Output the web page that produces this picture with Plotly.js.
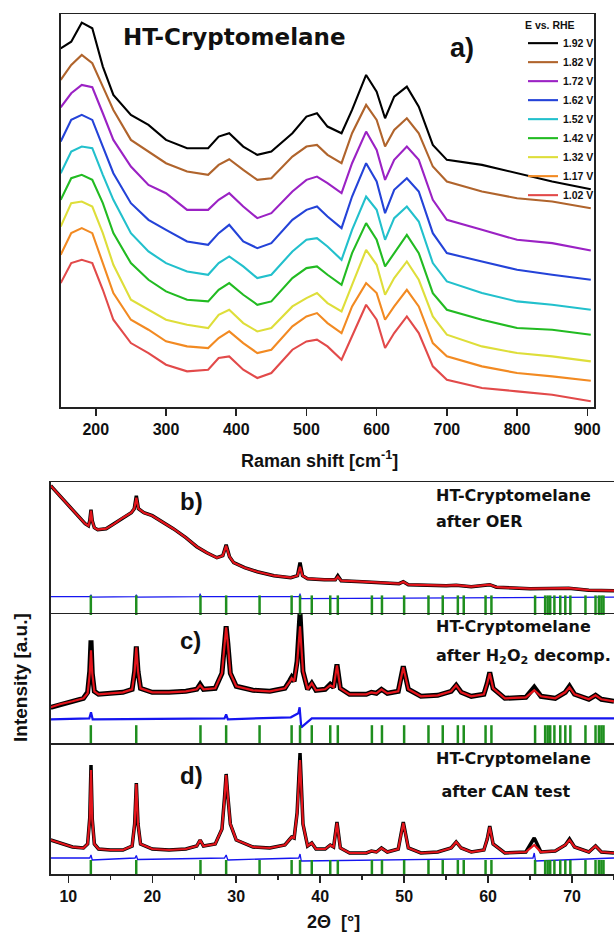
<!DOCTYPE html>
<html><head><meta charset="utf-8">
<script src="https://cdn.plot.ly/plotly-3.0.1.min.js"></script>
<style>html,body{margin:0;padding:0;background:#fff}#chart{width:614px;height:934px}</style>
</head><body><div id="chart"></div>
<script>
// ---------- Raman (panel a) ----------
const ramanX = [150,165,180,195,210,225,250,275,300,330,360,375,390,410,430,450,480,500,515,530,550,565,585,600,612,625,643,660,680,700,750,800,850,905];
const potentials = ['1.92 V','1.82 V','1.72 V','1.62 V','1.52 V','1.42 V','1.32 V','1.17 V','1.02 V'];
const v192 = [107.7,109.7,115.4,113.7,102.2,93.7,87.7,84.7,80.2,77.7,77.7,81.2,82.2,78.2,75.7,76.7,82.2,87.2,88.2,84.2,82.2,89.2,99.7,94.7,86.7,93.2,96.2,90.2,78.7,74.2,72.7,70.2,67.7,65.4];
const v182 = [98.2,102.7,105.7,103.2,96.2,89.2,80.2,76.7,73.2,70.7,69.7,72.7,74.4,71.2,68.2,68.7,75.2,78.2,78.7,75.7,73.2,82.2,90.7,86.2,78.2,83.2,86.7,82.2,72.2,67.7,64.7,62.7,61.7,59.7];
const v172 = [90,94.2,96.7,96,88.2,80.2,72.2,66.7,64.2,59.2,59.2,62.2,64.2,60.2,56.7,58.2,64.7,68.2,69.2,67.2,64.2,73.2,82.7,77.2,68.2,74.2,78.2,74.2,62.2,56.2,53.2,50.2,49.2,47];
const v162 = [79.7,86.2,87.7,86.2,78.2,70.2,61.2,56.2,53.2,49.7,48.7,52.2,54.7,49.7,47.7,49.2,56.2,59.2,60.2,57.2,53.7,63.2,73.2,67.7,58.2,65.2,68.7,64.7,52.2,46.2,43.7,41.2,39.7,38.2];
const v152 = [70.2,76.7,78.2,77.7,69.7,62.2,52.2,46.7,43.2,40.7,39.7,43.2,45.2,42.2,38.7,39.7,46.7,50.2,50.7,48.2,44.2,53.2,63.2,59.2,50.2,56.7,60.2,55.7,43.2,37.7,34.2,31.7,30.7,29.2];
const v142 = [62.2,68.7,69.7,68.2,61.2,52.2,43.2,38.2,34.7,32.2,31.7,35.2,37.2,33.7,30.7,31.7,38.7,41.7,42.2,39.7,36.7,46.2,55.2,50.2,42.2,46.2,51.7,46.2,34.2,29.2,26.2,23.7,23.2,21.7];
const v132 = [54.2,61.2,61.7,60.2,52.2,42.7,32.2,29.2,26.2,24.7,23.7,27.7,29.2,25.2,22.7,23.7,30.2,32.7,34.2,31.2,28.7,36.7,47.2,42.7,33.7,38.7,43.7,38.2,27.2,21.7,18.2,16.2,15.2,13.7];
const v117 = [45.7,52.2,53.7,52.2,43.2,34.2,26.2,23.2,19.7,18.2,17.7,20.7,22.7,19.2,16.2,17.2,24.2,27.2,28.2,25.2,22.2,30.2,37.2,34.2,26.2,30.2,35.2,30.2,19.2,15.2,12.2,10.2,9.2,7.9];
const v102 = [37.2,43.2,44.2,43.2,35.2,26.2,19.2,16.2,12.7,10.7,11.2,14.7,15.2,11.2,8.7,10.2,17.2,19.7,20.2,18.2,14.2,21.2,30.7,26.2,17.7,22.2,27.2,22.2,12.2,8.2,5.7,4.7,3.7,1.7];
const ramanSeries = [v192,v182,v172,v162,v152,v142,v132,v117,v102];
const ramanColors = ['#000000','#b0642c','#9b22c4','#2443d8','#22c0cc','#22bb22','#dede3a','#f28a22','#e24a4a'];

// ---------- XRD panel b (after OER) ----------
const xB = [7.9,9,10,11,12,12.4,12.55,12.7,12.85,13.1,13.5,14.5,15.5,16.5,17.5,17.85,18.1,18.35,19,20,21,22.5,24,25.3,26.5,27.7,28.4,28.8,29.2,29.7,31,32.5,34.5,36.5,37.3,37.6,37.9,38.5,40.5,41.8,42.1,42.5,45,49.4,49.9,50.5,55,56.2,58,60.2,61,65,69.6,72,75];
const calcB = [127,117,108,98,89,87,92,102,92,85,83,84,89,95,100,104,115,104,100,97,92,84,75,66,60,55,57,67,56,50,45,41,37,35,37,46,37,34,33,33,36,32,31,29,31,28,27,27.5,26,28,25.5,24,24.5,22.5,22];
const obsB  = [127,117,108,98,89,87,92,103,92,85,83,84,89,95,100,104,117,104,100,97,92,84,75,66,60,55,57,68,56,50,45,41,37,35,37,50,37,34,33,33,37,32,31,29,31,28,27,27.5,26,28,25.5,24,24.5,22.5,22];
const diffBx = [7.9,12.6,12.7,12.8,18.0,18.1,18.2,25.6,25.7,25.8,37.5,37.6,37.7,75];
const diffBy = [16,16,18,15.5,16,18,15.5,16,19,16,16,19,14,15.5];

// ---------- XRD panels c and d share the same angle grid ----------
const xCD = [7.9,9,10.5,11.8,12.3,12.55,12.7,12.85,13.1,13.6,15,16.5,17.6,17.9,18.1,18.3,18.6,20,22,24,25.3,25.7,26.1,27.5,28.3,28.6,28.8,29.0,29.3,30,32,34,35.8,36.4,36.6,36.9,37.25,37.6,37.95,38.5,39.0,39.5,40.6,41.2,41.6,42.0,42.4,43.5,45.5,46.1,46.7,47.3,48,49.3,49.9,50.5,52,54,55.6,56.2,56.8,58,59.5,59.9,60.2,60.6,62,64.5,65.5,66.3,68,69.2,69.7,70.3,72,72.8,73.5,75];
const calcC = [36,39,42,45,50,70,93,70,52,49,50,51,54,72,96,72,55,51,51,52,54,58,54,55,70,100,116,100,70,57,53,52,55,62,65,62,80,117,72,54,60,53,54,58,56,78,55,49,49,51,50,54,50,52,76,54,47,48,52,58,51,47,49,60,70,55,45,46,53,47,45,51,56,49,44,48,44,42];
const obsC  = [36,39,42,45,51,72,103,70,52,49,50,51,54,72,97,72,55,51,51,52,54,59,54,55,70,100,117,100,70,57,53,52,55,63,66,62,82,130,72,54,60,53,54,59,56,79,55,49,49,51,50,54,50,52,77,54,47,48,52,58,51,47,49,60,71,55,45,46,56,47,45,51,57,49,44,48,44,42];
const diffCx = [7.9,12.5,12.7,12.9,28.6,28.8,29.0,36.5,37.4,37.55,37.75,38.3,39,75];
const diffCy = [24,25,31,24,25,29,24,26,30,36,16,20,25,25];

const calcD = [34,31,27,26,30,55,104,55,30,25,24,24,28,50,90,50,30,25,24,25,28,34,28,30,45,75,99,78,50,34,27,26,29,35,37,36,60,114,50,28,31,25,25,29,27,51,26,21,21,23,22,26,22,25,51,26,21,22,26,32,26,22,24,35,47,30,21,22,29,22,23,29,34,27,22,28,22,21];
const obsD  = [34,31,27,26,30,56,109,55,30,25,24,24,28,50,91,50,30,25,24,25,28,34,28,30,45,76,100,78,50,34,27,26,29,35,37,36,61,121,50,28,31,25,25,29,27,52,26,21,21,23,22,26,22,25,52,26,21,22,26,32,26,22,24,35,48,30,21,22,36,22,23,29,35,27,22,28,22,21];
const diffDx = [7.9,12.55,12.7,12.85,17.95,18.1,18.25,28.6,28.8,29.0,37.45,37.6,37.75,65.35,65.5,65.65,75];
const diffDy = [16,16,19,14,16,18.5,14.5,16,19,14,16,20,13,16,21,13,16];

// Bragg reflection positions (2theta, deg)
const reflections = [12.68,18.09,25.74,28.8,32.78,36.6,37.6,39.0,41.2,42.1,46.16,47.36,50.0,52.9,54.6,56.4,57.1,59.7,60.4,65.6,66.8,67.1,67.4,67.9,68.6,69.2,69.8,71.6,72.8,73.2,73.5,73.75];

const panelTexts = [['HT-Cryptomelane','after OER'],['HT-Cryptomelane','after H<sub>2</sub>O<sub>2</sub> decomp.'],['HT-Cryptomelane',' after CAN test']];

// ---------- helpers / styles ----------
const W = 614, H = 934;
const px = v => v / W, py = v => 1 - v / H;
const AR = 'Liberation Sans, Arial, sans-serif';
const DV = 'DejaVu Sans, sans-serif';
const FRAME = '#222';

const traces = [];
ramanSeries.forEach((ys, i) => {
  traces.push({x: ramanX, y: ys, type: 'scatter', mode: 'lines', name: potentials[i],
    line: {color: ramanColors[i], width: 2.1}, xaxis: 'x', yaxis: 'y'});
});

function xrdPanel(xa, ya, x, obs, calc, dx, dy, obsW, diffW, tickLevel, tickSize) {
  traces.push({x: x, y: obs, type: 'scatter', mode: 'lines', showlegend: false,
    line: {color: '#000', width: obsW}, xaxis: xa, yaxis: ya});
  traces.push({x: x, y: calc, type: 'scatter', mode: 'lines', showlegend: false,
    line: {color: '#e3141b', width: 2.2}, xaxis: xa, yaxis: ya});
  traces.push({x: dx, y: dy, type: 'scatter', mode: 'lines', showlegend: false,
    line: {color: '#1515f0', width: diffW}, xaxis: xa, yaxis: ya});
  traces.push({x: reflections, y: reflections.map(() => tickLevel), type: 'scatter', mode: 'markers',
    showlegend: false, cliponaxis: false,
    marker: {symbol: 'line-ns', size: tickSize, line: {color: '#1f8f1f', width: 2.5}}, xaxis: xa, yaxis: ya});
}
xrdPanel('x4', 'y2', xB, obsB, calcB, diffBx, diffBy, 3.5, 1.2, 7.5, 14);
xrdPanel('x3', 'y3', xCD, obsC, calcC, diffCx, diffCy, 5, 2.2, 8.3, 14);
xrdPanel('x2', 'y4', xCD, obsD, calcD, diffDx, diffDy, 3.5, 1.3, 6.3, 11);

const tickFont = {family: AR, size: 16, color: '#111', weight: 'bold'};
const boxY = (dom, anchor, range) => ({domain: dom, anchor: anchor, range: range, showticklabels: false, ticks: '',
  showline: true, mirror: true, linecolor: FRAME, linewidth: 1.5, showgrid: false, zeroline: false});
const boxX = (dom, anchor, mirror) => ({domain: dom, anchor: anchor, range: [7.9, 75], showticklabels: false, ticks: '',
  showline: true, mirror: mirror, linecolor: FRAME, linewidth: 1.5, showgrid: false, zeroline: false});

const ann = (text, x, y, size, fam, opts) => Object.assign({text: text, x: px(x), y: py(y), xref: 'paper', yref: 'paper',
  showarrow: false, font: {family: fam, size: size, color: '#111', weight: 'bold'}, xanchor: 'center', yanchor: 'middle'}, opts || {});

const annotations = [
  ann('HT-Cryptomelane', 234, 37, 23, DV),
  ann('a)', 462, 48, 27, AR),
  ann('Raman shift [cm<sup>-1</sup>]', 319, 460, 18, AR),
  ann('b)', 192, 501, 24, AR),
  ann('c)', 190, 640, 24, AR),
  ann('d)', 192, 775, 24, AR),
  ann('Intensity [a.u.]', 20, 678, 19, AR, {textangle: -90}),
  ann('2\u0398  [°]', 333, 922, 18, AR)
];
const textYs = [[495, 521.7], [626.7, 656.7], [758.3, 791.7]];
panelTexts.forEach((pair, i) => {
  annotations.push(ann(pair[0], 434, textYs[i][0], 16, DV, {xanchor: 'left'}));
  annotations.push(ann(pair[1], 434, textYs[i][1], 16, DV, {xanchor: 'left'}));
});

const layout = {
  width: W, height: H, margin: {l: 0, r: 0, t: 0, b: 0}, paper_bgcolor: '#fff', plot_bgcolor: '#fff',
  showlegend: true,
  legend: {x: px(599), xanchor: 'right', y: py(15), yanchor: 'top', bgcolor: 'rgba(0,0,0,0)',
    font: {family: AR, size: 10.5, color: '#111', weight: 'bold'}, tracegroupgap: 0, itemwidth: 30,
    title: {text: 'E vs. RHE', font: {family: AR, size: 10.5, color: '#111', weight: 'bold'}}},
  xaxis: {domain: [px(60.7), px(594.3)], anchor: 'y', range: [150, 910], tick0: 0, dtick: 100,
    ticks: 'outside', ticklen: 7, tickwidth: 1.5, tickcolor: FRAME, tickfont: tickFont,
    showline: true, mirror: true, linecolor: FRAME, linewidth: 1.5, showgrid: false, zeroline: false},
  yaxis: {domain: [py(407), py(14)], anchor: 'x', range: [0, 118], showticklabels: false, ticks: '',
    showline: true, mirror: true, linecolor: FRAME, linewidth: 1.5, showgrid: false, zeroline: false},
  xaxis2: {domain: [px(50.7), 1], anchor: 'y4', range: [7.9, 75], tick0: 0, dtick: 10,
    ticks: 'outside', ticklen: 7, tickwidth: 1.5, tickcolor: FRAME, tickfont: tickFont,
    minor: {ticks: 'outside', ticklen: 4, tickwidth: 1.5, tick0: 0, dtick: 5, tickcolor: FRAME},
    showline: true, mirror: false, linecolor: FRAME, linewidth: 1.5, showgrid: false, zeroline: false},
  xaxis3: boxX([px(50.7), 1], 'y3', false),
  xaxis4: boxX([px(50.7), 1], 'y2', true),
  yaxis2: boxY([py(612.7), py(482.3)], 'x4', [0, 130.4]),
  yaxis3: boxY([py(743.3), py(612.7)], 'x3', [0, 130.6]),
  yaxis4: boxY([py(874), py(743.3)], 'x2', [0, 130.7]),
  annotations: annotations
};

Plotly.newPlot('chart', traces, layout, {displayModeBar: false, staticPlot: true});
</script></body></html>
